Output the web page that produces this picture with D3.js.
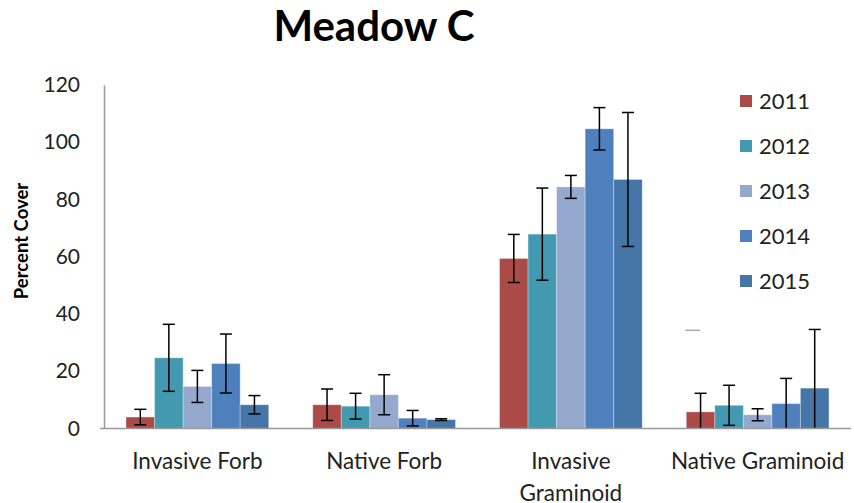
<!DOCTYPE html>
<html><head><meta charset="utf-8">
<script src="https://cdn.jsdelivr.net/npm/d3@7"></script>
<style>body{margin:0;background:#fff}svg{display:block}</style>
</head><body>
<script>
const categories = ["Invasive Forb", "Native Forb", "Invasive Graminoid", "Native Graminoid"];
const tickLabelLines = [["Invasive Forb"], ["Native Forb"], ["Invasive", "Graminoid"], ["Native Graminoid"]];
const years = ["2011", "2012", "2013", "2014", "2015"];
const values = {
  "2011": [4.0, 8.3, 59.4, 5.8],
  "2012": [24.7, 7.8, 67.9, 8.1],
  "2013": [14.7, 11.8, 84.4, 4.8],
  "2014": [22.7, 3.6, 104.7, 8.7],
  "2015": [8.3, 3.1, 87.0, 14.1]
};
const errors = {
  "2011": [2.7, 5.5, 8.4, 6.5],
  "2012": [11.7, 4.5, 16.1, 7.0],
  "2013": [5.6, 7.0, 4.0, 2.1],
  "2014": [10.3, 2.7, 7.4, 8.8],
  "2015": [3.2, 0.3, 23.4, 20.5]
};
const colors = ["#AA4B48", "#4399AF", "#95A9CF", "#4E80BD", "#4675A8"];
const yTicks = [0, 20, 40, 60, 80, 100, 120];
const strayMark = {category: "Native Graminoid", value: 34.3};

const W = 854, H = 503;
const FONT = "Lato, 'Open Sans', sans-serif";
const svg = d3.select("body").append("svg").attr("width", W).attr("height", H);

const x0 = d3.scaleBand().domain(categories).range([104, 851]).padding(0);
const x1 = d3.scaleBand().domain(years)
  .range([x0.bandwidth() * 0.118, x0.bandwidth() * 0.882]).padding(0);
const y = d3.scaleLinear().domain([0, 120]).range([428.5, 85]);

// title
svg.append("text").attr("x", 374).attr("y", 41).attr("text-anchor", "middle")
  .attr("font-family", FONT).attr("font-weight", "bold").attr("font-size", 42)
  .attr("fill", "#000").text("Meadow C");

// y label
svg.append("text").attr("transform", "translate(28,241) rotate(-90)")
  .attr("text-anchor", "middle").attr("font-family", FONT).attr("font-weight", "bold")
  .attr("font-size", 18.5).attr("fill", "#000").text("Percent Cover");

// y axis
const yAxis = d3.axisLeft(y).tickValues(yTicks).tickSize(0).tickPadding(24);
const gy = svg.append("g").attr("transform", "translate(104,0)").call(yAxis);
gy.select(".domain").attr("stroke", "#9a9a9a").attr("stroke-width", 1.5);
gy.selectAll("text").attr("font-family", FONT).attr("font-size", 21).attr("fill", "#222");

// bars
const groups = svg.append("g").selectAll("g").data(categories).join("g")
  .attr("transform", d => `translate(${x0(d)},0)`);
groups.each(function(cat, ci) {
  const g = d3.select(this);
  years.forEach((yr, yi) => {
    const v = values[yr][ci];
    g.append("rect").attr("x", x1(yr)).attr("width", x1.bandwidth())
      .attr("y", y(v)).attr("height", y(0) - y(v))
      .attr("fill", colors[yi]).attr("stroke", "rgba(255,255,255,0.3)").attr("stroke-width", 1);
  });
});
// error bars
groups.each(function(cat, ci) {
  const g = d3.select(this);
  years.forEach((yr) => {
    const v = values[yr][ci], e = errors[yr][ci];
    const cx = x1(yr) + x1.bandwidth() / 2;
    const top = y(v + e), bot = y(Math.max(0, v - e));
    g.append("line").attr("x1", cx).attr("x2", cx).attr("y1", top).attr("y2", bot)
      .attr("stroke", "#000").attr("stroke-width", 1.5);
    g.append("line").attr("x1", cx - 6).attr("x2", cx + 6).attr("y1", top).attr("y2", top)
      .attr("stroke", "#000").attr("stroke-width", 1.5);
    if (v - e > 0) {
      g.append("line").attr("x1", cx - 6).attr("x2", cx + 6).attr("y1", bot).attr("y2", bot)
        .attr("stroke", "#000").attr("stroke-width", 1.5);
    }
  });
});

// stray mark
svg.append("line")
  .attr("x1", x0(strayMark.category) + x1(years[0]) - 1)
  .attr("x2", x0(strayMark.category) + x1(years[0]) + 14)
  .attr("y1", y(strayMark.value)).attr("y2", y(strayMark.value))
  .attr("stroke", "#aaa").attr("stroke-width", 1.5);

// x axis
svg.append("line").attr("x1", 100).attr("x2", 851).attr("y1", y(0)).attr("y2", y(0))
  .attr("stroke", "#9a9a9a").attr("stroke-width", 1.5);
const xl = svg.append("g").selectAll("text").data(categories).join("text")
  .attr("text-anchor", "middle").attr("font-family", FONT).attr("font-size", 22.5).attr("fill", "#222")
  .attr("x", d => x0(d) + x0.bandwidth() / 2).attr("y", 469);
xl.each(function(d, i) {
  d3.select(this).selectAll("tspan").data(tickLabelLines[i]).join("tspan")
    .attr("x", x0(d) + x0.bandwidth() / 2).attr("dy", (t, j) => j === 0 ? 0 : 32).text(t => t);
});

// legend
const lg = svg.append("g").selectAll("g").data(years).join("g")
  .attr("transform", (d, i) => `translate(740,${101 + i * 45})`);
lg.append("rect").attr("x", 0).attr("y", -6).attr("width", 12).attr("height", 12)
  .attr("fill", (d, i) => colors[i]);
lg.append("text").attr("x", 19).attr("y", 0).attr("dy", "0.36em")
  .attr("font-family", FONT).attr("font-size", 22).attr("fill", "#222").text(d => d);
</script>
</body></html>
